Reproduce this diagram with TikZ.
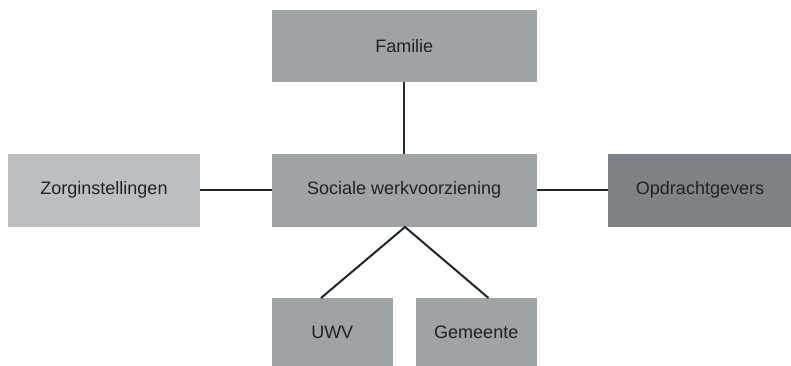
\documentclass[tikz,border=0pt]{standalone}
\usepackage{fontspec}
\setmainfont{Liberation Sans}
\definecolor{midgray}{HTML}{9EA3A5}
\definecolor{lightgray}{HTML}{BCBFC1}
\definecolor{darkgray}{HTML}{7D8387}
\definecolor{txt}{HTML}{222222}
\definecolor{linec}{HTML}{1C262B}
\begin{document}
\begin{tikzpicture}[x=1pt,y=-1pt,
  box/.style={inner sep=0pt, outer sep=0pt, text=txt, font=\fontsize{18}{21}\selectfont},
  conn/.style={draw=linec, line width=2pt}]
\useasboundingbox (0,0) rectangle (791,366);
\fill[white] (0,0) rectangle (791,366);
\fill[midgray] (272,10) rectangle (536.5,82.5);
\node[box] (fam) at (404.25,46.25) {Familie};
\fill[midgray] (272,154) rectangle (536.5,226.5);
\node[box] (soc) at (404.25,190.25) {Sociale werkvoorziening};
\fill[lightgray] (8,154) rectangle (200,226.5);
\node[box] (zorg) at (104,190.25) {Zorginstellingen};
\fill[darkgray] (607.5,154) rectangle (791,226.5);
\node[box] (opd) at (700,190.25) {Opdrachtgevers};
\fill[midgray] (272,298) rectangle (392.5,366);
\node[box] (uwv) at (332.25,332) {UWV};
\fill[midgray] (416,298) rectangle (536.5,366);
\node[box] (gem) at (476.25,332) {Gemeente};
\coordinate (famb) at (404,82.5);
\coordinate (soct) at (404,154);
\coordinate (socl) at (272,190);
\coordinate (zorgr) at (200,190);
\coordinate (socr) at (536.5,190);
\coordinate (opdl) at (607.5,190);
\coordinate (apex) at (405,227);
\coordinate (uwvt) at (321,298);
\coordinate (gemt) at (488.5,298);
\draw[conn] (famb) -- (soct);
\draw[conn] (zorgr) -- (socl);
\draw[conn] (socr) -- (opdl);
\draw[conn] (uwvt) -- (apex) -- (gemt);
\end{tikzpicture}
\end{document}
